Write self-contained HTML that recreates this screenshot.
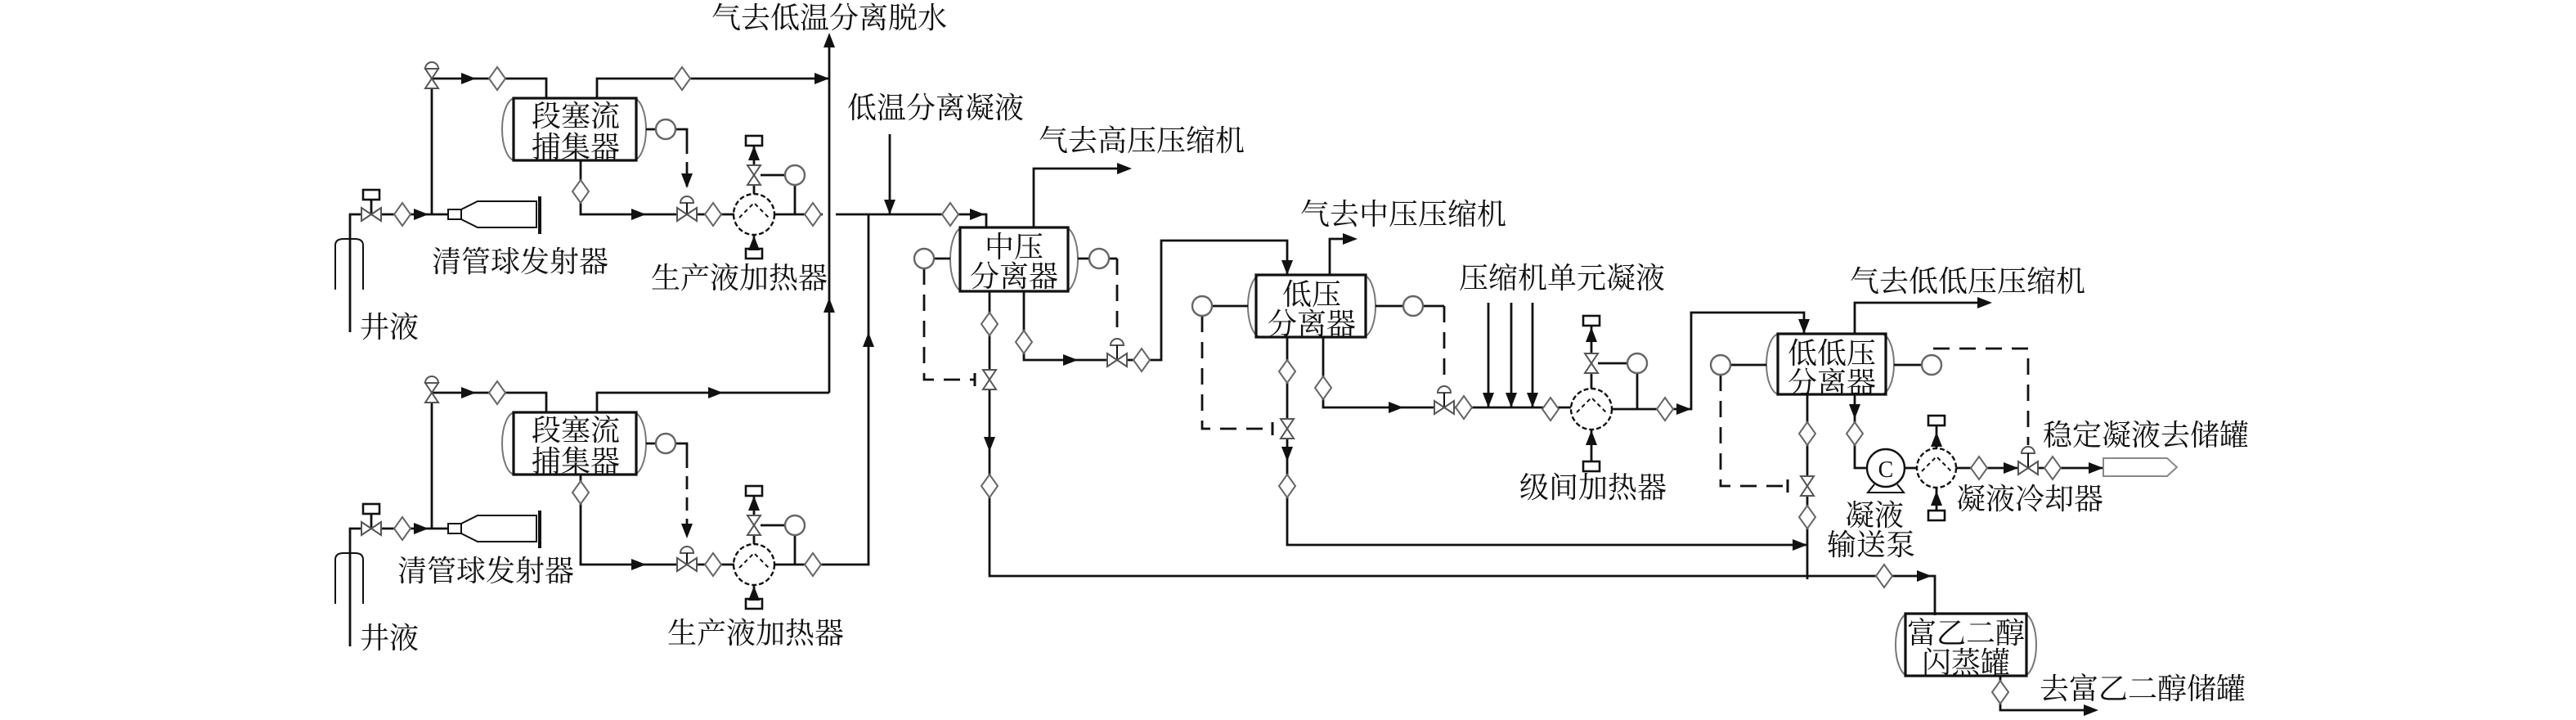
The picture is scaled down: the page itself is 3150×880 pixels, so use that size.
<!DOCTYPE html>
<html><head><meta charset="utf-8"><style>
html,body{margin:0;padding:0;background:#fff;}
svg{display:block;}
text{font-family:"Liberation Serif","Noto Serif CJK SC","Noto Sans CJK SC",serif;fill:#111;}
</style></head><body>
<svg width="3150" height="880" viewBox="0 0 1575 440" xmlns="http://www.w3.org/2000/svg">
<defs>
<polygon id="d" points="0,-7 5,0 0,7 -5,0" fill="#fff" stroke="#666" stroke-width="1"/>
<polygon id="vh" points="-6,-4 -6,4 6,-4 6,4" fill="#fff" stroke="#555" stroke-width="1"/>
<polygon id="vv" points="-4,-6 4,-6 -4,6 4,6" fill="#fff" stroke="#555" stroke-width="1"/>
<circle id="c" r="6" fill="#fff" stroke="#666" stroke-width="1.2"/>
<polygon id="ar" points="-9,-3.5 0,0 -9,3.5" fill="#111"/>
<path id="dome" d="M-4,0 A4,4 0 0 1 4,0 Z" fill="#fff" stroke="#555" stroke-width="1"/>
<rect id="bx" x="-5" y="-3" width="10" height="6" fill="#fff" stroke="#111" stroke-width="1.3"/>
</defs>
<g fill="none" stroke="#111" stroke-width="1.4">

<!-- ===== Upper train part A ===== -->
<g id="A">
<path d="M205 177 V150 Q205 146 210 146 H217 Q222 146 222 150 V177" stroke-width="1"/>
<path d="M214 203 V131 H274"/>
<path d="M227 131 V119"/>
<path d="M264 131 V48 H334 V60"/>
<rect x="274" y="128" width="8" height="6" stroke-width="1"/>
<polygon points="282,128 292,123 328,123 328,139 292,139 282,134" stroke-width="1"/>
<path d="M330 120 V143" stroke-width="2"/>
<rect x="307" y="60" width="88" height="38" rx="8" ry="19" stroke="#777" stroke-width="1"/>
<rect x="314" y="60" width="75" height="38" stroke-width="1.6"/>
<path d="M395 79 H401 M413 79 H420 V86"/>
</g>

<!-- lower part A -->
<g transform="translate(0,192)">
<path d="M205 177 V150 Q205 146 210 146 H217 Q222 146 222 150 V177" stroke-width="1"/>
<path d="M214 203 V131 H274"/>
<path d="M227 131 V119"/>
<path d="M264 131 V48 H334 V60"/>
<rect x="274" y="128" width="8" height="6" stroke-width="1"/>
<polygon points="282,128 292,123 328,123 328,139 292,139 282,134" stroke-width="1"/>
<path d="M330 120 V143" stroke-width="2"/>
<rect x="307" y="60" width="88" height="38" rx="8" ry="19" stroke="#777" stroke-width="1"/>
<rect x="314" y="60" width="75" height="38" stroke-width="1.6"/>
<path d="M395 79 H401 M413 79 H420 V86"/>
<path d="M365 60 V48 H507"/>
</g>

<!-- upper top outlet -->
<path d="M365 60 V48 H507"/>
<!-- upper vessel bottom & dashed -->
<path d="M355 98 V131 H449"/>
<path d="M420 86 V114" stroke-dasharray="8,5"/>
<!-- lower vessel bottom & dashed -->
<path d="M355 290 V345 H449"/>
<path d="M420 278 V328" stroke-dasharray="8,5"/>

<!-- heater chains -->
<g id="B">
<circle cx="461" cy="131" r="12.5" stroke-width="1.2" stroke-dasharray="3,1.5"/>
<path d="M452 133 L461 124 L470 133" stroke-width="1" stroke-dasharray="2.5,2"/>
<path d="M461 118.5 V88 M461 143.5 V152 M465 107 H480 M486 113 V131"/>
</g>
<g transform="translate(0,214)">
<circle cx="461" cy="131" r="12.5" stroke-width="1.2" stroke-dasharray="3,1.5"/>
<path d="M452 133 L461 124 L470 133" stroke-width="1" stroke-dasharray="2.5,2"/>
<path d="M461 118.5 V88 M461 143.5 V152 M465 107 H480 M486 113 V131"/>
</g>
<path d="M473.5 131 H503"/>
<path d="M473.5 345 H531 V131"/>

<!-- main verticals -->
<path d="M507 240 V22"/>
<path d="M544 82 V131"/>
<path d="M511 131 H603 V139"/>

<!-- MP separator -->
<rect x="581" y="139" width="78" height="39" rx="8" ry="19.5" stroke="#777" stroke-width="1"/>
<rect x="587" y="139" width="66" height="39" stroke-width="1.6"/>
<path d="M632 139 V103 H690"/>
<path d="M571 158 H581 M659 158 H666 M678 158 H683"/>
<path d="M565 164 V232 H596" stroke-dasharray="10,6"/>
<path d="M683 158 V205" stroke-dasharray="10,6"/>
<path d="M605 178 V352 H1183 V376"/>
<path d="M626 178 V220 H710 V147 H787 V168"/>

<!-- LP separator -->
<rect x="763" y="168" width="78" height="38" rx="8" ry="19" stroke="#777" stroke-width="1"/>
<rect x="768" y="168" width="67" height="38" stroke-width="1.6"/>
<path d="M813 168 V146 H828"/>
<path d="M741 187 H763 M841 187 H858 M870 187 H883"/>
<path d="M735 193 V262 H778" stroke-dasharray="10,6"/>
<path d="M883 187 V233" stroke-dasharray="10,6"/>
<path d="M787 206 V333 H1105"/>
<path d="M809 206 V249 H960.5"/>
<path d="M910 185 V249 M924 185 V249 M937 185 V249"/>
<circle cx="973" cy="250" r="12.5" stroke-width="1.2" stroke-dasharray="3,1.5"/>
<path d="M964 252 L973 243 L982 252" stroke-width="1" stroke-dasharray="2.5,2"/>
<path d="M973 237.5 V198 M973 262.5 V282 M977 222 H995 M1001 228 V250"/>
<path d="M985.5 250 H1034 V191 H1103 V204"/>

<!-- LLP separator -->
<rect x="1080" y="204" width="78" height="37" rx="8" ry="18.5" stroke="#777" stroke-width="1"/>
<rect x="1087" y="204" width="66" height="37" stroke-width="1.6"/>
<path d="M1134 204 V185 H1216"/>
<path d="M1058 223 H1080 M1158 223 H1175"/>
<path d="M1052 229 V297 H1093" stroke-dasharray="10,6"/>
<path d="M1182 213 H1240 V272" stroke-dasharray="10,6"/>
<path d="M1105 241 V354"/>
<path d="M1134 241 V286 H1141.5"/>
<circle cx="1153" cy="286" r="11.5" stroke-width="1.2"/>
<path d="M1146 296 L1142 301 H1164 L1160 296" stroke-width="1"/>
<path d="M1164.5 286 H1172"/>
<circle cx="1184" cy="286" r="12" stroke-width="1.2" stroke-dasharray="3,1.5"/>
<path d="M1175 288 L1184 279 L1193 288" stroke-width="1" stroke-dasharray="2.5,2"/>
<path d="M1184 274 V260 M1184 298 V312"/>
<path d="M1196 286 H1286"/>
<polygon points="1286,280 1325,280 1331,285.5 1325,291 1286,291" stroke="#888" stroke-width="1"/>

<!-- Glycol -->
<rect x="1159" y="375" width="86" height="38" rx="8" ry="19" stroke="#777" stroke-width="1"/>
<rect x="1165" y="375" width="74" height="38" stroke-width="1.6"/>
<path d="M1223 413 V434 H1281"/>
</g>

<!-- symbols -->
<g>
<!-- upper A -->
<use href="#vh" x="227" y="131"/><use href="#bx" x="227" y="119"/>
<use href="#d" x="246" y="131"/><use href="#ar" transform="translate(262,131)"/>
<use href="#vv" x="264" y="48"/><use href="#dome" x="264" y="42"/>
<use href="#ar" transform="translate(291,48)"/><use href="#d" x="304" y="48"/>
<use href="#d" x="417" y="48"/><use href="#ar" transform="translate(507,48)"/>
<use href="#c" x="407" y="79"/>
<use href="#d" x="355" y="117"/><use href="#ar" transform="translate(395,131)"/>
<use href="#ar" transform="translate(420,115) rotate(90)"/>
<use href="#dome" x="420" y="124"/><path d="M420 124 V131" stroke="#111"/>
<use href="#vh" x="420" y="131"/><use href="#d" x="436" y="131"/>
<use href="#bx" x="461" y="86"/><use href="#ar" transform="translate(461,89) rotate(-90)"/>
<use href="#vv" x="461" y="107"/><use href="#c" x="486" y="107"/>
<use href="#bx" x="461" y="155"/><use href="#ar" transform="translate(461,144) rotate(-90)"/>
<use href="#d" x="497" y="131"/>
<!-- lower A -->
<use href="#vh" x="227" y="323"/><use href="#bx" x="227" y="311"/>
<use href="#d" x="246" y="323"/><use href="#ar" transform="translate(262,323)"/>
<use href="#vv" x="264" y="240"/><use href="#dome" x="264" y="234"/>
<use href="#ar" transform="translate(291,240)"/><use href="#d" x="304" y="240"/>
<use href="#ar" transform="translate(442,240)"/>
<use href="#c" x="407" y="271"/>
<use href="#d" x="355" y="301"/><use href="#ar" transform="translate(395,345)"/>
<use href="#ar" transform="translate(420,329) rotate(90)"/>
<use href="#dome" x="420" y="338"/><path d="M420 338 V345" stroke="#111"/>
<use href="#vh" x="420" y="345"/><use href="#d" x="436" y="345"/>
<use href="#bx" x="461" y="300"/><use href="#ar" transform="translate(461,303) rotate(-90)"/>
<use href="#vv" x="461" y="321"/><use href="#c" x="486" y="321"/>
<use href="#bx" x="461" y="369"/><use href="#ar" transform="translate(461,358) rotate(-90)"/>
<use href="#d" x="497" y="345"/>
<!-- mains -->
<use href="#ar" transform="translate(507,20) rotate(-90)"/>
<use href="#ar" transform="translate(507,182) rotate(-90)"/>
<use href="#ar" transform="translate(531,203) rotate(-90)"/>
<use href="#ar" transform="translate(544,131) rotate(90)"/>
<use href="#d" x="581" y="131"/><use href="#ar" transform="translate(602,131)"/>
<!-- MP -->
<use href="#ar" transform="translate(692,103)"/>
<use href="#c" x="565" y="158"/><use href="#c" x="672" y="158"/>
<use href="#d" x="605" y="198"/>
<path d="M596 228 V236" stroke="#111" stroke-width="1.5"/>
<use href="#vv" x="605" y="232"/>
<use href="#ar" transform="translate(605,276) rotate(90)"/>
<use href="#d" x="605" y="297"/>
<use href="#d" x="626" y="209"/><use href="#ar" transform="translate(659,220)"/>
<use href="#dome" x="683" y="211"/><path d="M683 211 V220" stroke="#111"/>
<use href="#vh" x="683" y="220"/><use href="#d" x="698" y="220"/>
<use href="#ar" transform="translate(787,168) rotate(90)"/>
<!-- LP -->
<use href="#ar" transform="translate(830,146)"/>
<use href="#c" x="735" y="187"/><use href="#c" x="864" y="187"/>
<use href="#d" x="787" y="227"/>
<path d="M778 258 V266" stroke="#111" stroke-width="1.5"/>
<use href="#vv" x="787" y="262"/>
<use href="#ar" transform="translate(787,282) rotate(90)"/>
<use href="#d" x="787" y="297"/>
<use href="#d" x="809" y="237"/><use href="#ar" transform="translate(858,249)"/>
<use href="#dome" x="883" y="240"/><path d="M883 240 V249" stroke="#111"/>
<use href="#vh" x="883" y="249"/><use href="#d" x="895" y="249"/>
<use href="#ar" transform="translate(910,249) rotate(90)"/>
<use href="#ar" transform="translate(924,249) rotate(90)"/>
<use href="#ar" transform="translate(937,249) rotate(90)"/>
<use href="#d" x="948" y="250"/>
<use href="#bx" x="973" y="196"/><use href="#ar" transform="translate(973,200) rotate(-90)"/>
<use href="#vv" x="973" y="222"/><use href="#c" x="1001" y="222"/>
<use href="#bx" x="973" y="285"/><use href="#ar" transform="translate(973,263) rotate(-90)"/>
<use href="#d" x="1018" y="250"/><use href="#ar" transform="translate(1034,250)"/>
<use href="#ar" transform="translate(1103,204) rotate(90)"/>
<use href="#ar" transform="translate(1105,333)"/>
<!-- LLP -->
<use href="#ar" transform="translate(1218,185)"/>
<use href="#c" x="1052" y="223"/><use href="#c" x="1181" y="223"/>
<use href="#d" x="1105" y="265"/>
<path d="M1093 293 V301" stroke="#111" stroke-width="1.5"/>
<use href="#vv" x="1105" y="297"/><use href="#d" x="1105" y="316"/>
<use href="#ar" transform="translate(1134,256) rotate(90)"/>
<use href="#d" x="1134" y="265"/>
<use href="#bx" x="1184" y="257"/><use href="#ar" transform="translate(1184,264) rotate(-90)"/>
<use href="#bx" x="1184" y="315"/><use href="#ar" transform="translate(1184,300) rotate(-90)"/>
<use href="#d" x="1210" y="286"/><use href="#ar" transform="translate(1234,286)"/>
<use href="#dome" x="1240" y="277"/><path d="M1240 277 V286" stroke="#111"/>
<use href="#vh" x="1240" y="286"/><use href="#d" x="1255" y="286"/>
<use href="#ar" transform="translate(1286,286)"/>
<use href="#d" x="1152" y="352"/><use href="#ar" transform="translate(1181,352)"/>
<use href="#d" x="1223" y="423"/><use href="#ar" transform="translate(1283,434)"/>
</g>
<text x="1153" y="291.5" font-size="14" text-anchor="middle" font-family="Liberation Sans, sans-serif">C</text>

<!-- labels -->
<g font-size="18">
<text x="435" y="17">气去低温分离脱水</text>
<text x="518" y="72">低温分离凝液</text>
<text x="264" y="166">清管球发射器</text>
<text x="398" y="176">生产液加热器</text>
<text x="220" y="206">井液</text>
<text x="243" y="355">清管球发射器</text>
<text x="408" y="393">生产液加热器</text>
<text x="220" y="396">井液</text>
<text x="635" y="92">气去高压压缩机</text>
<text x="795" y="137">气去中压压缩机</text>
<text x="892" y="176">压缩机单元凝液</text>
<text x="929" y="304">级间加热器</text>
<text x="1131" y="178">气去低低压压缩机</text>
<text x="1249" y="272">稳定凝液去储罐</text>
<text x="1196" y="311">凝液冷却器</text>
<text x="1128" y="321">凝液</text>
<text x="1117" y="339">输送泵</text>
<text x="1247" y="427">去富乙二醇储罐</text>
</g>
<g font-size="18" text-anchor="middle">
<text x="352" y="77">段塞流</text>
<text x="352" y="96">捕集器</text>
<text x="352" y="269">段塞流</text>
<text x="352" y="288">捕集器</text>
<text x="620" y="157">中压</text>
<text x="620" y="175">分离器</text>
<text x="802" y="186">低压</text>
<text x="802" y="204">分离器</text>
<text x="1120" y="222">低低压</text>
<text x="1120" y="240">分离器</text>
<text x="1202" y="393">富乙二醇</text>
<text x="1202" y="411">闪蒸罐</text>
</g>
</svg>
</body></html>
